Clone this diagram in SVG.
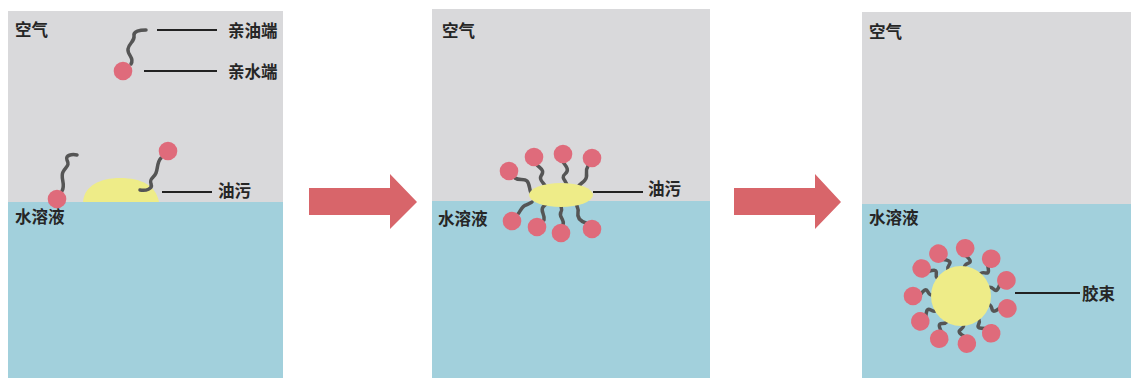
<svg xmlns="http://www.w3.org/2000/svg" width="1131" height="378" viewBox="0 0 1131 378">
  <defs>
    <style>
      .air { fill: #d9d9db; }
      .water { fill: #a2d0dc; }
      .oil { fill: #eeec88; }
      .head { fill: #df6b7b; }
      .tail { fill: none; stroke: #555555; stroke-width: 3.5; stroke-linecap: round; stroke-linejoin: round; }
      .leader { stroke: #222222; stroke-width: 2; fill: none; }
      .label { font-family: "Noto Sans CJK SC", "Noto Sans", sans-serif; font-size: 16.5px; font-weight: 600; fill: #262626; dominant-baseline: central; }
      .arrow { fill: #d8656a; }
    </style>
    <!-- surfactant pointing outward along +x: tail inside, head at r=48 -->
    <g id="radialTail">
      <path class="tail" d="M41,1 C37,6 35,8 33,4 S29,0 25,2"/>
    </g>
    <g id="radialHead">
      <circle class="head" cx="48" cy="0" r="9.3"/>
    </g>
  </defs>

  <!-- Stage 1: molecules approaching the oil stain -->
  <g id="panel1">
    <rect class="air" x="8" y="11" width="275" height="191"/>
    <rect class="water" x="8" y="202" width="275" height="176"/>
    <text class="label" x="15" y="29">空气</text>
    <text class="label" x="15" y="216">水溶液</text>
    <path class="oil" d="M83,202 C84,186 100,178 120,178 C142,178 156,186 159,202 Z"/>
    <path class="tail" d="M62,191 C66,184 60,178 63,172 C66,166 70,166 67,160 C65,155 72,154 77,155"/>
    <circle class="head" cx="57" cy="199" r="9.3"/>
    <path class="tail" d="M161,158 C157,162 158,168 156,173 C154,178 149,178 151,184 C153,189 146,191 140,190"/>
    <circle class="head" cx="168" cy="151" r="9.3"/>
  </g>

  <g id="legend">
    <path class="tail" d="M131,64 C135,58 127,55 128,49 C129,43 135,41 134,36 C133,31 140,30 146,30"/>
    <circle class="head" cx="123" cy="71" r="9.3"/>
    <text class="label" x="228" y="30">亲油端</text>
    <text class="label" x="228" y="71">亲水端</text>
  </g>

  <!-- Stage 2: molecules gather around the stain at the interface -->
  <g id="panel2">
    <rect class="air" x="432" y="9" width="278" height="192"/>
    <rect class="water" x="432" y="201" width="278" height="177"/>
    <text class="label" x="442" y="30">空气</text>
    <text class="label" x="438" y="218">水溶液</text>
    <path class="tail" d="M515,178 C519,181 524,178 527,181 C530,184 529,189 531,193"/>
    <path class="tail" d="M537,165 C541,169 545,170 541,176 C538,181 546,183 546,189"/>
    <path class="tail" d="M563,162 C566,166 570,170 565,174 C560,178 567,181 567,186"/>
    <path class="tail" d="M588,166 C584,172 589,175 585,180 C583,183 579,184 578,187"/>
    <path class="tail" d="M518,214 C521,210 522,206 526,205 C529,204 530,203 532,202"/>
    <path class="tail" d="M544,220 C545,214 540,211 543,207 C545,205 546,204 547,203"/>
    <path class="tail" d="M563,225 C565,219 558,217 561,212 C563,209 560,206 561,204"/>
    <path class="tail" d="M586,223 C580,221 577,217 578,212 C579,208 576,207 577,204"/>
    <ellipse class="oil" cx="561" cy="195" rx="32" ry="12"/>
    <circle class="head" cx="509" cy="171" r="9.3"/>
    <circle class="head" cx="534" cy="157" r="9.3"/>
    <circle class="head" cx="563" cy="154" r="9.3"/>
    <circle class="head" cx="592" cy="158" r="9.3"/>
    <circle class="head" cx="512" cy="221" r="9.3"/>
    <circle class="head" cx="537" cy="227" r="9.3"/>
    <circle class="head" cx="561" cy="233" r="9.3"/>
    <circle class="head" cx="592" cy="229" r="9.3"/>
  </g>

  <!-- Stage 3: micelle in solution -->
  <g id="panel3">
    <rect class="air" x="862" y="12" width="269" height="192"/>
    <rect class="water" x="862" y="204" width="269" height="174"/>
    <text class="label" x="869" y="31">空气</text>
    <text class="label" x="869" y="217">水溶液</text>
  </g>

  <g id="micelle" transform="translate(961 296)">
    <use href="#radialTail" transform="rotate(-118)"/>
    <use href="#radialTail" transform="rotate(-85)"/>
    <use href="#radialTail" transform="rotate(-51)"/>
    <use href="#radialTail" transform="rotate(-19)"/>
    <use href="#radialTail" transform="rotate(15)"/>
    <use href="#radialTail" transform="rotate(51)"/>
    <use href="#radialTail" transform="rotate(83)"/>
    <use href="#radialTail" transform="rotate(117)"/>
    <use href="#radialTail" transform="rotate(148)"/>
    <use href="#radialTail" transform="rotate(180)"/>
    <use href="#radialTail" transform="rotate(-145)"/>
    <circle class="oil" cx="0" cy="0" r="30"/>
    <use href="#radialHead" transform="rotate(-118)"/>
    <use href="#radialHead" transform="rotate(-85)"/>
    <use href="#radialHead" transform="rotate(-51)"/>
    <use href="#radialHead" transform="rotate(-19)"/>
    <use href="#radialHead" transform="rotate(15)"/>
    <use href="#radialHead" transform="rotate(51)"/>
    <use href="#radialHead" transform="rotate(83)"/>
    <use href="#radialHead" transform="rotate(117)"/>
    <use href="#radialHead" transform="rotate(148)"/>
    <use href="#radialHead" transform="rotate(180)"/>
    <use href="#radialHead" transform="rotate(-145)"/>
  </g>

  <g id="label-micelle">
    <text class="label" x="1082" y="293">胶束</text>
  </g>

  <!-- leader lines and stage arrows -->
  <g id="connectors">
    <line class="leader" x1="157" y1="30" x2="217" y2="30"/>
    <line class="leader" x1="144" y1="71" x2="217" y2="71"/>
    <line class="leader" x1="162" y1="192" x2="212" y2="192"/>
    <line class="leader" x1="593" y1="192" x2="643" y2="192"/>
    <line class="leader" x1="1015" y1="293" x2="1080" y2="293"/>
    <polygon class="arrow" points="309,188 390,188 390,174 417,202 390,229 390,215 309,215"/>
    <polygon class="arrow" points="734,188 815,188 815,174 841,202 815,229 815,215 734,215"/>
  </g>

  <g id="label-oil">
    <text class="label" x="218" y="190">油污</text>
    <text class="label" x="648" y="188">油污</text>
  </g>
</svg>
